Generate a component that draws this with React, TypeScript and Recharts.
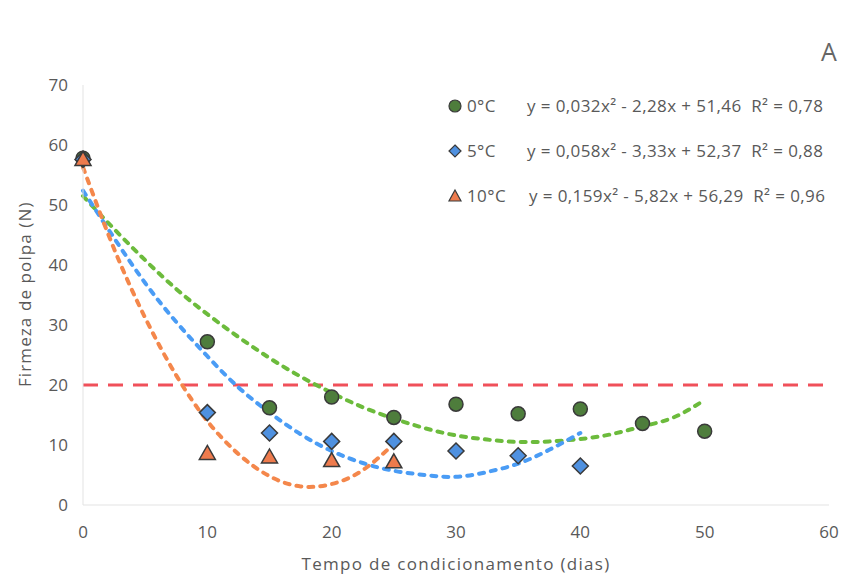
import React from 'react';
import { ComposedChart, Scatter, Line, XAxis, YAxis, ReferenceLine } from 'recharts';

const days = [0, 10, 15, 20, 25, 30, 35, 40, 45, 50];
const firm0 = [57.8, 27.2, 16.2, 18.0, 14.6, 16.8, 15.2, 16.0, 13.6, 12.3];
const days5 = [0, 10, 15, 20, 25, 30, 35, 40];
const firm5 = [57.6, 15.4, 12.0, 10.6, 10.6, 9.0, 8.2, 6.5];
const days10 = [0, 10, 15, 20, 25];
const firm10 = [57.6, 8.6, 8.0, 7.4, 7.2];

const trendX0 = [0, 2.5, 5, 7.5, 10, 12.5, 15, 17.5, 20, 22.5, 25, 27.5, 30, 32.5, 35, 37.5, 40, 42.5, 45, 47.5, 50];
const trend0 = [51.5, 46, 40.8, 36, 31.8, 28, 24.5, 21.4, 18.7, 16.3, 14.4, 12.8, 11.6, 10.9, 10.5, 10.6, 11.0, 11.8, 13.1, 14.6, 17.5];
const trendX5 = [0, 2.5, 5, 7.5, 10, 12.5, 15, 17.5, 20, 22.5, 25, 27.5, 30, 32.5, 35, 37.5, 40];
const trend5 = [52.4, 44.5, 37, 30.5, 24.8, 19.6, 15.4, 11.8, 9.0, 7.0, 5.7, 5.0, 4.7, 5.5, 6.9, 9.2, 12.0];
const trendX10 = [0, 2.5, 5, 7.5, 10, 12.5, 15, 17.5, 20, 22.5, 25];
const trend10 = [56.3, 42.7, 31.2, 21.6, 14.0, 8.5, 4.8, 3.1, 3.5, 5.8, 10.2];

const xTicks = [0, 10, 20, 30, 40, 50, 60];
const yTicks = [0, 10, 20, 30, 40, 50, 60, 70];
const limit = 20;

const legendRows = [
  { label: '0°C', eq: 'y = 0,032x² - 2,28x + 51,46  R² = 0,78' },
  { label: '5°C', eq: 'y = 0,058x² - 3,33x + 52,37  R² = 0,88' },
  { label: '10°C', eq: 'y = 0,159x² - 5,82x + 56,29  R² = 0,96' },
];

const zip = (xs: number[], ys: number[]) => xs.map((x, i) => ({ x, y: ys[i] }));

const FONT = '"Open Sans", Lato, sans-serif';
const TXT = '#595959';
const GREEN = '#4e7d3c';
const BLUE = '#4f91e0';
const ORANGE = '#ee7b4d';
const EDGE = '#3a3a3a';

const Circle = (p: any) => <circle cx={p.cx} cy={p.cy} r={7} fill={GREEN} stroke={EDGE} strokeWidth={1.5} />;
const Diamond = (p: any) => (
  <polygon points={`${p.cx},${p.cy - 8} ${p.cx + 8},${p.cy} ${p.cx},${p.cy + 8} ${p.cx - 8},${p.cy}`} fill={BLUE} stroke={EDGE} strokeWidth={1.5} />
);
const Tri = (p: any) => (
  <polygon points={`${p.cx},${p.cy - 8} ${p.cx + 8},${p.cy + 6} ${p.cx - 8},${p.cy + 6}`} fill={ORANGE} stroke={EDGE} strokeWidth={1.5} />
);

export default function App() {
  const markers = [
    <svg width={16} height={16} key="c"><circle cx={8} cy={8} r={6} fill={GREEN} stroke={EDGE} strokeWidth={1.2} /></svg>,
    <svg width={16} height={16} key="d"><polygon points="8,2 14,8 8,14 2,8" fill={BLUE} stroke={EDGE} strokeWidth={1.2} /></svg>,
    <svg width={16} height={16} key="t"><polygon points="8,2 14,13 2,13" fill={ORANGE} stroke={EDGE} strokeWidth={1.2} /></svg>,
  ];
  return (
    <div style={{ position: 'absolute', left: 0, top: 0, width: 845, height: 577, background: '#fff', fontFamily: FONT }}>
      <ComposedChart width={845} height={577} margin={{ top: 85, right: 16, bottom: 42, left: 0 }}>
        <XAxis
          type="number"
          dataKey="x"
          domain={[0, 60]}
          ticks={xTicks}
          height={30}
          tickLine={false}
          axisLine={{ stroke: '#e3e3e3' }}
          tick={{ fill: TXT, fontSize: 17, fontFamily: FONT }}
          tickMargin={15}
          label={{ value: 'Tempo  de condicionamento (dias)', position: 'insideBottom', offset: -35, fill: TXT, fontSize: 17, fontFamily: FONT, letterSpacing: 1.3 }}
        />
        <YAxis
          type="number"
          dataKey="y"
          domain={[0, 70]}
          ticks={yTicks}
          width={83}
          tickLine={false}
          axisLine={{ stroke: '#e3e3e3' }}
          tick={{ fill: TXT, fontSize: 17, fontFamily: FONT }}
          tickMargin={9}
          label={{ value: 'Firmeza de polpa (N)', angle: -90, position: 'insideLeft', offset: 25, fill: TXT, fontSize: 17, fontFamily: FONT, dy: 92, letterSpacing: 1.1 }}
        />
        <ReferenceLine y={limit} stroke="#f0505a" strokeWidth={3} strokeDasharray="15 10" />
        <Line data={zip(trendX0, trend0)} dataKey="y" type="natural" stroke="#6cbb3c" strokeWidth={4} strokeDasharray="5 7" strokeLinecap="round" dot={false} isAnimationActive={false} />
        <Line data={zip(trendX5, trend5)} dataKey="y" type="natural" stroke="#4a9cf5" strokeWidth={4} strokeDasharray="5 7" strokeLinecap="round" dot={false} isAnimationActive={false} />
        <Line data={zip(trendX10, trend10)} dataKey="y" type="natural" stroke="#f4874b" strokeWidth={4} strokeDasharray="5 7" strokeLinecap="round" dot={false} isAnimationActive={false} />
        <Scatter data={zip(days, firm0)} shape={Circle} isAnimationActive={false} />
        <Scatter data={zip(days5, firm5)} shape={Diamond} isAnimationActive={false} />
        <Scatter data={zip(days10, firm10)} shape={Tri} isAnimationActive={false} />
      </ComposedChart>
      <div style={{ position: 'absolute', left: 821, top: 34, fontSize: 25, color: '#666' }}>A</div>
      {legendRows.map((r, i) => (
        <div key={r.label} style={{ position: 'absolute', left: 447, top: 94 + i * 45, display: 'flex', alignItems: 'center', color: TXT, fontSize: 17, whiteSpace: 'pre', letterSpacing: 0.4 }}>
          {markers[i]}
          <span style={{ marginLeft: 4, width: i === 2 ? 62 : 58 }}>{r.label}</span>
          <span style={{ marginLeft: i === 2 ? 0 : 2 }}>{r.eq}</span>
        </div>
      ))}
    </div>
  );
}
